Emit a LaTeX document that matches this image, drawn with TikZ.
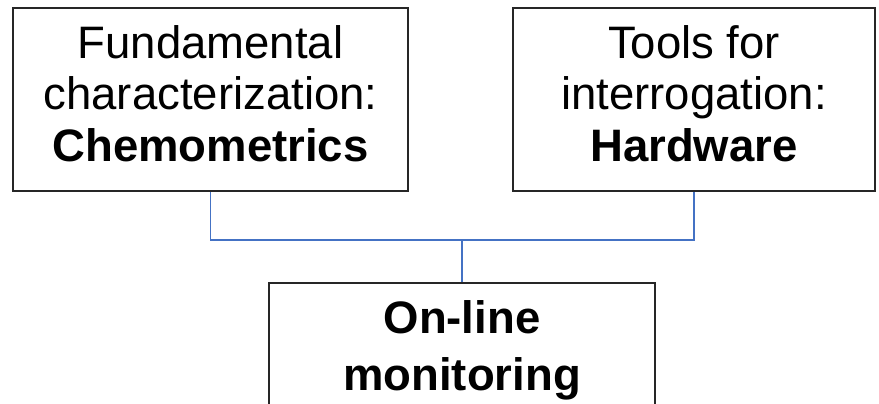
\documentclass[tikz,border=0pt]{standalone}
\usepackage{fontspec}
\setmainfont{Liberation Sans}
\usepackage{tikz}
\usetikzlibrary{positioning}
\definecolor{mBlue}{HTML}{4472C4}
\definecolor{mDark}{HTML}{262626}

\tikzset{
  panel/.style={draw=mDark, line width=1.8pt, inner sep=0pt},
  paneltext/.style={align=center, inner sep=0pt, font=\fontsize{45.5}{51.5}\selectfont},
  link/.style={draw=mBlue, line width=1.8pt},
}

\begin{document}
\begin{tikzpicture}[x=1pt, y=-1pt]
  \useasboundingbox (0,0) rectangle (879,404);
  \clip (0,0) rectangle (879,404);
  % the two source boxes
  \node[panel, minimum width=395pt, minimum height=183pt] (chemo) at (210.5,99.5) {};
  \node[panel, minimum width=362pt, minimum height=183pt] (hw) at (694,99.5) {};
  \node[paneltext, below=18pt of chemo.north] (chemotxt)
    {Fundamental\\characterization:\\\textbf{Chemometrics}};
  \node[paneltext, below=18pt of hw.north] (hwtxt)
    {Tools for\\interrogation:\\\textbf{Hardware}};
  % target box, cut off at the bottom
  \node[panel, anchor=north, minimum width=386pt, minimum height=183pt] (online) at (462,282) {};
  \node[paneltext, below=18pt of online.north, font=\fontsize{45.5}{57}\selectfont\bfseries] (onlinetxt)
    {On-line\\monitoring};
  % connectors
  \coordinate (join) at (462,240);
  \draw[link] (chemo.south) |- (join) -| (hw.south);
  \draw[link] (join) -- (online.north);
\end{tikzpicture}
\end{document}
